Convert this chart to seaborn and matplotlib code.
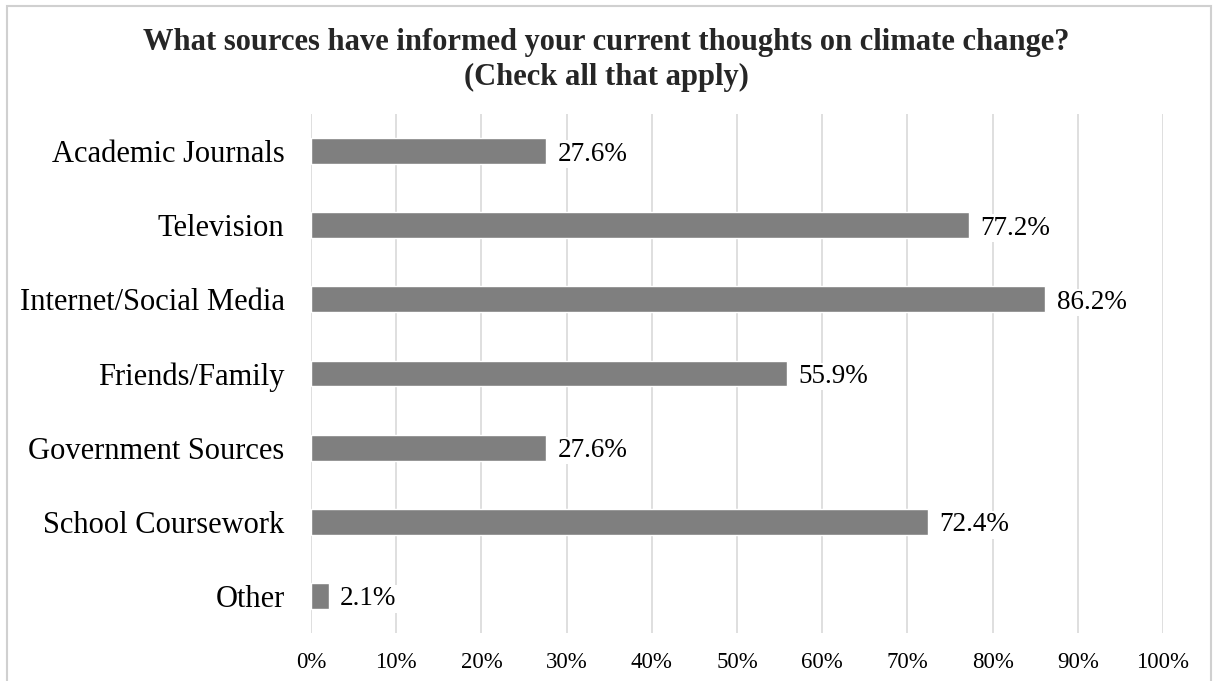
import matplotlib
matplotlib.use("Agg")
import matplotlib.pyplot as plt
from matplotlib.patches import Rectangle
from matplotlib.ticker import MultipleLocator, FuncFormatter
import seaborn as sns
import pandas as pd

categories = ["Academic Journals", "Television", "Internet/Social Media",
              "Friends/Family", "Government Sources", "School Coursework", "Other"]
percentages = [27.6, 77.2, 86.2, 55.9, 27.6, 72.4, 2.1]
title = "What sources have informed your current thoughts on climate change?\n(Check all that apply)"

sns.set_theme(style="white")
plt.rcParams["font.family"] = ["Liberation Serif", "DejaVu Serif"]

df = pd.DataFrame({"source": categories, "pct": percentages})

fig = plt.figure(figsize=(12.13, 6.81), dpi=100)
ax = fig.add_axes([311 / 1213, 1 - 633 / 681, (1163 - 311) / 1213, (633 - 114) / 681])

sns.barplot(data=df, x="pct", y="source", order=categories, color="#7f7f7f",
            saturation=1, width=0.35, ax=ax, zorder=2)

ax.set_xlim(0, 100)
ax.set_ylim(6.5, -0.5)
ax.xaxis.set_major_locator(MultipleLocator(10))
ax.xaxis.set_major_formatter(FuncFormatter(lambda v, _: f"{v:.0f}%"))
ax.grid(axis="x", color="#d9d9d9", lw=1.2, zorder=0)
ax.grid(axis="y", visible=False)
ax.set_axisbelow(True)
for s in ax.spines.values():
    s.set_visible(False)
ax.set_xlabel("")
ax.set_ylabel("")
ax.tick_params(axis="y", length=0, pad=19, labelsize=22, labelcolor="black")
ax.tick_params(axis="x", length=0, pad=14, labelsize=16.5, labelcolor="black")

for i, v in enumerate(percentages):
    ax.annotate(f"{v:.1f}%", xy=(v, i), xytext=(8, 0), textcoords="offset points",
                va="center_baseline", ha="left", fontsize=19.5, color="black",
                zorder=3, bbox=dict(facecolor="white", edgecolor="none", pad=1))

fig.text(0.5, 1 - 60 / 681, title, ha="center", va="center", fontsize=22,
         fontweight="bold", linespacing=1.28)

fig.patches.append(Rectangle((7 / 1213, -0.02), (1211 - 7) / 1213, 1 - 6 / 681 + 0.02,
                             transform=fig.transFigure, fill=False,
                             edgecolor="#d0d0d0", linewidth=1.5))

fig.savefig("out.png", dpi=100)
